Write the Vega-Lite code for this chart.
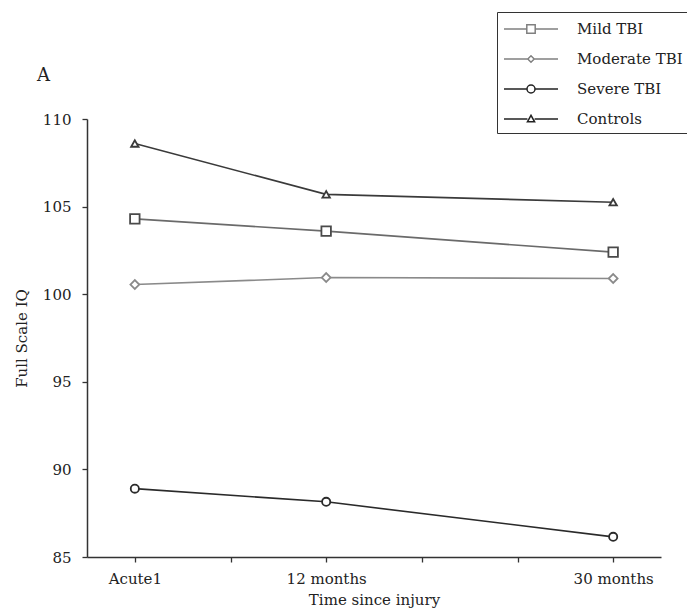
{
  "$schema": "https://vega.github.io/schema/vega-lite/v6.json",
  "width": 574,
  "height": 438,
  "autosize": {"type": "none"},
  "padding": {"left": 87, "top": 119, "right": 26, "bottom": 55},
  "background": "white",
  "title": {"text": "A", "anchor": "start", "frame": "group", "dx": -50, "offset": -73, "fontSize": 18, "font": "DejaVu Serif", "fontWeight": "normal", "color": "#222"},
  "data": {
    "values": [
      {"group": "Mild TBI", "month": 0, "iq": 104.3},
      {"group": "Mild TBI", "month": 12, "iq": 103.6},
      {"group": "Mild TBI", "month": 30, "iq": 102.4},
      {"group": "Moderate TBI", "month": 0, "iq": 100.55},
      {"group": "Moderate TBI", "month": 12, "iq": 100.95},
      {"group": "Moderate TBI", "month": 30, "iq": 100.9},
      {"group": "Severe TBI", "month": 0, "iq": 88.9},
      {"group": "Severe TBI", "month": 12, "iq": 88.15},
      {"group": "Severe TBI", "month": 30, "iq": 86.15},
      {"group": "Controls", "month": 0, "iq": 108.6},
      {"group": "Controls", "month": 12, "iq": 105.7},
      {"group": "Controls", "month": 30, "iq": 105.25}
    ]
  },
  "encoding": {
    "x": {
      "field": "month", "type": "quantitative",
      "scale": {"domain": [-3, 33], "nice": false, "zero": false},
      "axis": {
        "title": "Time since injury",
        "values": [0, 6, 12, 18, 24, 30],
        "labelExpr": "datum.value == 0 ? 'Acute1' : datum.value == 12 ? '12 months' : datum.value == 30 ? '30 months' : ''",
        "grid": false, "labelPadding": 9, "titlePadding": 6, "titleFontSize": 15, "labelFontSize": 15
      }
    },
    "y": {
      "field": "iq", "type": "quantitative",
      "scale": {"domain": [85, 110], "nice": false, "zero": false},
      "axis": {
        "title": "Full Scale IQ",
        "values": [85, 90, 95, 100, 105, 110],
        "grid": false, "labelPadding": 11, "titlePadding": 13, "titleFontSize": 15, "labelFontSize": 15
      }
    }
  },
  "layer": [
    {
      "mark": {"type": "line", "strokeWidth": 1.6},
      "encoding": {
        "detail": {"field": "group"},
        "stroke": {
          "field": "group", "type": "nominal",
          "scale": {"domain": ["Mild TBI", "Moderate TBI", "Severe TBI", "Controls"], "range": ["#6a6a6a", "#8a8a8a", "#2a2a2a", "#3a3a3a"]},
          "legend": null
        }
      }
    },
    {
      "mark": {"type": "point", "filled": false, "fill": "white", "fillOpacity": 1, "strokeWidth": 1.8, "opacity": 1},
      "encoding": {
        "shape": {
          "field": "group", "type": "nominal",
          "scale": {"domain": ["Mild TBI", "Moderate TBI", "Severe TBI", "Controls"], "range": ["square", "diamond", "circle", "triangle-up"]},
          "legend": null
        },
        "size": {
          "field": "group", "type": "nominal",
          "scale": {"domain": ["Mild TBI", "Moderate TBI", "Severe TBI", "Controls"], "range": [90, 55, 75, 75]},
          "legend": null
        },
        "stroke": {
          "field": "group", "type": "nominal",
          "scale": {"domain": ["Mild TBI", "Moderate TBI", "Severe TBI", "Controls"], "range": ["#4a4a4a", "#8a8a8a", "#2a2a2a", "#3a3a3a"]},
          "legend": null
        }
      }
    },
    {
      "mark": {"type": "point", "filled": false, "opacity": 0, "size": 400},
      "encoding": {
        "shape": {
          "field": "group", "type": "nominal",
          "scale": {
            "domain": ["Mild TBI", "Moderate TBI", "Severe TBI", "Controls"],
            "range": [
              "M-2.7,0H-0.42M0.42,0H2.7M-0.42,-0.42H0.42V0.42H-0.42Z",
              "M-2.7,0H-0.32M0.32,0H2.7M-0.32,0L0,-0.32L0.32,0L0,0.32Z",
              "M-2.7,0H-0.4M0.4,0H2.7M-0.4,0A0.4,0.4,0,1,0,0.4,0A0.4,0.4,0,1,0,-0.4,0Z",
              "M-2.7,0H-0.36M0.36,0H2.7M-0.36,0.28L0,-0.36L0.36,0.28Z"
            ]
          },
          "legend": {
            "title": null,
            "orient": "none",
            "legendX": 410,
            "legendY": -107,
            "padding": 6,
            "strokeColor": "#333",
            "fillColor": "white",
            "symbolSize": 400,
            "symbolOffset": 17,
            "labelOffset": 35,
            "rowPadding": 11,
            "labelFont": "DejaVu Serif",
            "labelFontSize": 15,
            "labelColor": "#222",
            "labelLimit": 250,
            "encode": {
              "legend": {"update": {"strokeWidth": {"value": 1.5}}},
              "symbols": {
                "update": {
                  "opacity": {"value": 1},
                  "fill": {"value": "white"},
                  "fillOpacity": {"value": 1},
                  "strokeWidth": {"value": 1.5}
                }
              }
            }
          }
        },
        "stroke": {
          "field": "group", "type": "nominal",
          "scale": {"domain": ["Mild TBI", "Moderate TBI", "Severe TBI", "Controls"], "range": ["#808080", "#808080", "#222222", "#222222"]},
          "legend": {
            "title": null,
            "orient": "none",
            "legendX": 410,
            "legendY": -107,
            "padding": 6,
            "strokeColor": "#333",
            "fillColor": "white",
            "symbolSize": 400,
            "symbolOffset": 17,
            "labelOffset": 35,
            "rowPadding": 11,
            "labelFont": "DejaVu Serif",
            "labelFontSize": 15,
            "labelColor": "#222",
            "labelLimit": 250
          }
        }
      }
    }
  ],
  "resolve": {"scale": {"shape": "independent", "size": "independent", "stroke": "independent"}, "legend": {"shape": "independent", "stroke": "independent"}},
  "config": {
    "view": {"stroke": null},
    "font": "DejaVu Serif",
    "axis": {
      "domainColor": "#333", "domainWidth": 1.5, "tickColor": "#333", "tickWidth": 1.3, "tickSize": 5,
      "labelFont": "DejaVu Serif", "labelColor": "#222", "titleFont": "DejaVu Serif", "titleFontWeight": "normal", "titleColor": "#222"
    }
  }
}
